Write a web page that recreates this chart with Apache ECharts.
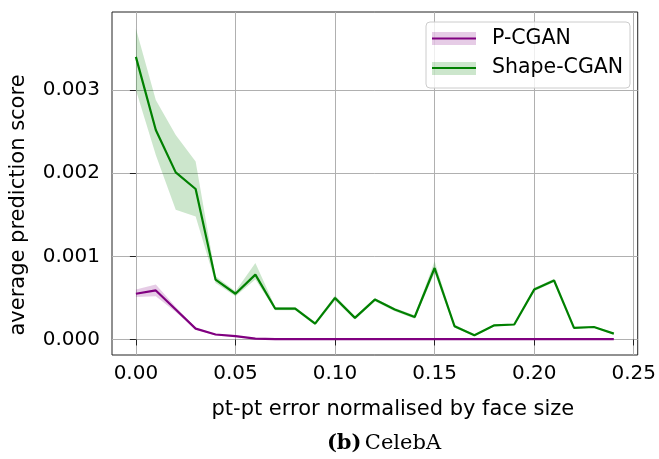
<!DOCTYPE html>
<html>
<head>
<meta charset="utf-8">
<script src="https://cdn.jsdelivr.net/npm/echarts@6/dist/echarts.min.js"></script>
<style>
    html, body { margin: 0; padding: 0; background: #fff; }
    #main { width: 659px; height: 459px; }
</style>
</head>
<body>
<div id="main"></div>
<script>
// pt-pt error thresholds (x)
var errX = [0.00, 0.01, 0.02, 0.03, 0.04, 0.05, 0.06, 0.07, 0.08, 0.09, 0.10, 0.11, 0.12,
            0.13, 0.14, 0.15, 0.16, 0.17, 0.18, 0.19, 0.20, 0.21, 0.22, 0.23, 0.24];

// Shape-CGAN: mean and band
var shapeMean = [0.00340, 0.00252, 0.00201, 0.00181, 0.00072, 0.00055, 0.00078, 0.00037, 0.00037,
                 0.00019, 0.00050, 0.00026, 0.00048, 0.00036, 0.00027, 0.00086, 0.00016, 0.00005,
                 0.00017, 0.00018, 0.00060, 0.00071, 0.00014, 0.00015, 0.00007];
var shapeLow  = [0.00300, 0.00222, 0.00156, 0.00148, 0.00068, 0.00052, 0.00072, 0.00035, 0.00035,
                 0.00017, 0.00047, 0.00024, 0.00046, 0.00034, 0.00025, 0.00080, 0.00014, 0.00004,
                 0.00016, 0.00017, 0.00058, 0.00069, 0.00013, 0.00014, 0.00006];
var shapeHigh = [0.00374, 0.00288, 0.00246, 0.00214, 0.00076, 0.00058, 0.00092, 0.00039, 0.00039,
                 0.00021, 0.00053, 0.00028, 0.00050, 0.00038, 0.00029, 0.00094, 0.00018, 0.00006,
                 0.00018, 0.00019, 0.00062, 0.00073, 0.00015, 0.00016, 0.00008];

// P-CGAN: mean and band
var pMean = [0.00055, 0.00059, 0.00036, 0.00013, 0.00006, 0.00004, 0.00001, 0.000005, 0.000005,
             0.000004, 0.000004, 0.000004, 0.000004, 0.000004, 0.000004, 0.000004, 0.000004, 0.000004,
             0.000004, 0.000004, 0.000004, 0.000004, 0.000004, 0.000004, 0.000004];
var pLow  = [0.00051, 0.00052, 0.00033, 0.00012, 0.00005, 0.00003, 0.000005, 0.000003, 0.000003,
             0.000002, 0.000002, 0.000002, 0.000002, 0.000002, 0.000002, 0.000002, 0.000002, 0.000002,
             0.000002, 0.000002, 0.000002, 0.000002, 0.000002, 0.000002, 0.000002];
var pHigh = [0.00060, 0.00066, 0.00039, 0.00014, 0.00007, 0.00005, 0.000015, 0.000007, 0.000007,
             0.000006, 0.000006, 0.000006, 0.000006, 0.000006, 0.000006, 0.000006, 0.000006, 0.000006,
             0.000006, 0.000006, 0.000006, 0.000006, 0.000006, 0.000006, 0.000006];

var xTicks = [0, 0.05, 0.10, 0.15, 0.20, 0.25];
var yTicks = [0, 0.001, 0.002, 0.003];

var GREEN = '#008000', PURPLE = '#800080';
var FONT = 'DejaVu Sans';

function pairs(a) {
    return errX.map(function (x, i) { return [x, a[i]]; });
}

// shaded band between lo and hi, drawn as one polygon through the axes
function band(lo, hi, fill) {
    return {
        type: 'custom', silent: true, z: 1,
        data: errX.map(function (x, i) { return [x, lo[i], hi[i]]; }),
        encode: { x: 0, y: [1, 2] },
        renderItem: function (params, api) {
            if (params.dataIndex !== 0) return;
            var pts = [], i;
            for (i = 0; i < errX.length; i++) pts.push(api.coord([errX[i], hi[i]]));
            for (i = errX.length - 1; i >= 0; i--) pts.push(api.coord([errX[i], lo[i]]));
            return { type: 'polygon', shape: { points: pts }, style: { fill: fill } };
        }
    };
}

var myChart = echarts.init(document.getElementById('main'));

var option = {
    animation: false,
    grid: {
        left: 112, right: 19, top: 12, bottom: 104,
        show: true, borderColor: '#222', borderWidth: 1, backgroundColor: 'transparent'
    },
    xAxis: {
        type: 'value', min: -0.012, max: 0.252,
        name: 'pt-pt error normalised by face size',
        nameLocation: 'middle', nameGap: 44,
        nameTextStyle: { fontFamily: FONT, fontSize: 21, color: '#000', padding: [0, 0, 0, 36] },
        axisLine: { show: false },
        axisTick: { show: true, length: 6, customValues: xTicks, lineStyle: { color: '#222' } },
        axisLabel: {
            customValues: xTicks, margin: 9, fontFamily: FONT, fontSize: 20, color: '#000',
            formatter: function (v) { return v.toFixed(2); }
        },
        splitLine: { show: true, lineStyle: { color: '#b0b0b0', width: 1 } }
    },
    yAxis: {
        type: 'value', min: -0.000187, max: 0.00394,
        name: 'average prediction score',
        nameLocation: 'middle', nameGap: 83,
        nameTextStyle: { fontFamily: FONT, fontSize: 21, color: '#000', padding: [0, 43, 0, 0] },
        axisLine: { show: false },
        axisTick: { show: true, length: 6, customValues: yTicks, lineStyle: { color: '#222' } },
        axisLabel: {
            customValues: yTicks, margin: 12, fontFamily: FONT, fontSize: 20, color: '#000',
            formatter: function (v) { return v.toFixed(3); }
        },
        splitLine: { show: true, lineStyle: { color: '#b0b0b0', width: 1 } }
    },
    series: [
        band(pLow, pHigh, 'rgba(128,0,128,0.2)'),
        band(shapeLow, shapeHigh, 'rgba(0,128,0,0.2)'),
        {
            name: 'P-CGAN', type: 'line', data: pairs(pMean), symbol: 'none',
            lineStyle: { color: PURPLE, width: 2.2 }, z: 3
        }, {
            name: 'Shape-CGAN', type: 'line', data: pairs(shapeMean), symbol: 'none',
            lineStyle: { color: GREEN, width: 2.2 }, z: 4
        }
    ],
    graphic: [
        // legend box
        { type: 'rect', shape: { x: 426, y: 22, width: 204, height: 66, r: 4 },
          style: { fill: 'rgba(255,255,255,0.8)', stroke: '#cccccc', lineWidth: 1 }, z: 10 },
        { type: 'rect', shape: { x: 432, y: 32, width: 44, height: 13 },
          style: { fill: 'rgba(128,0,128,0.2)' }, z: 11 },
        { type: 'line', shape: { x1: 432, y1: 38.5, x2: 476, y2: 38.5 },
          style: { stroke: PURPLE, lineWidth: 2.2 }, z: 12 },
        { type: 'text', x: 492, y: 38.5, z: 12,
          style: { text: 'P-CGAN', fontFamily: FONT, fontSize: 20.5, fill: '#000', verticalAlign: 'middle' } },
        { type: 'rect', shape: { x: 432, y: 62, width: 44, height: 13 },
          style: { fill: 'rgba(0,128,0,0.2)' }, z: 11 },
        { type: 'line', shape: { x1: 432, y1: 68, x2: 476, y2: 68 },
          style: { stroke: GREEN, lineWidth: 2.2 }, z: 12 },
        { type: 'text', x: 492, y: 68, z: 12,
          style: { text: 'Shape-CGAN', fontFamily: FONT, fontSize: 20.5, fill: '#000', verticalAlign: 'middle' } },
        // caption
        { type: 'text', x: 384, y: 444, z: 12,
          style: {
              text: '{b|(b)} {n|CelebA}', align: 'center', verticalAlign: 'middle',
              rich: {
                  b: { fontFamily: 'DejaVu Serif', fontWeight: 'bold', fontSize: 21, fill: '#000' },
                  n: { fontFamily: 'DejaVu Serif', fontSize: 21, fill: '#000' }
              }
          } }
    ]
};

myChart.setOption(option);
</script>
</body>
</html>
